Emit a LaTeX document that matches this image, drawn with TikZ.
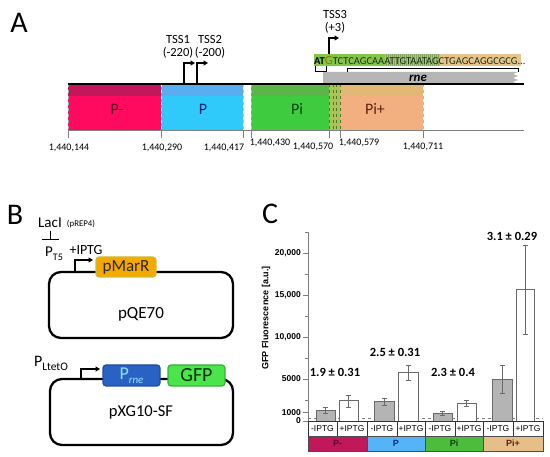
\documentclass[tikz,border=0pt]{standalone}
\usepackage{fontspec}
\setmainfont{Carlito}
\newfontfamily\arialf{Liberation Sans}
\usetikzlibrary{arrows.meta}
\definecolor{pmTop}{HTML}{C2185B}
\definecolor{pmBody}{HTML}{FF0A5F}
\definecolor{pTop}{HTML}{5AAEF0}
\definecolor{pBody}{HTML}{30CAFA}
\definecolor{piTop}{HTML}{5BB548}
\definecolor{piBody}{HTML}{3FCB3F}
\definecolor{pipTop}{HTML}{E3B775}
\definecolor{pipBody}{HTML}{F2B080}
\definecolor{stripeC}{HTML}{A8C458}
\definecolor{stripeL}{HTML}{4F7A20}
\definecolor{seqGreen}{HTML}{84C548}
\definecolor{seqMid}{HTML}{B4CC55}
\definecolor{seqTan}{HTML}{E6C48C}
\definecolor{seqG}{HTML}{8A7A00}
\definecolor{seqTxt}{HTML}{1C2E10}
\definecolor{rneGray}{HTML}{B6B6B6}
\definecolor{marrF}{HTML}{F5A800}
\definecolor{marrD}{HTML}{C8C038}
\definecolor{prneF}{HTML}{2A62C4}
\definecolor{prneT}{HTML}{8FE3FF}
\definecolor{gfpF}{HTML}{4CE44C}
\definecolor{gfpD}{HTML}{38B038}
\definecolor{gfpT}{HTML}{003000}
\definecolor{axisC}{HTML}{808080}
\definecolor{barG}{HTML}{B4B4B4}
\definecolor{barD}{HTML}{6A6A6A}
\definecolor{gPm}{HTML}{C0185A}
\definecolor{gPmT}{HTML}{600828}
\definecolor{gP}{HTML}{55B4F5}
\definecolor{gPT}{HTML}{0A2A80}
\definecolor{gPi}{HTML}{4DBB3C}
\definecolor{gPiT}{HTML}{0A4010}
\definecolor{gPip}{HTML}{E6BE8A}
\definecolor{gPipT}{HTML}{602010}
\tikzset{
  numlab/.style={font=\fontsize{10}{10}\selectfont, inner sep=0},
  tsslab/.style={font=\fontsize{12.5}{12.5}\selectfont, inner sep=0},
  seglab/.style={font=\fontsize{16}{16}\selectfont, inner sep=0},
  panellab/.style={font=\fontsize{30}{30}\selectfont, inner sep=0},
  prom/.style={line width=1.1pt, -{Triangle[length=4.5pt,width=5pt]}},
  plasmid/.style={line width=2.3pt, rounded corners=12pt},
  genebox/.style={rounded corners=3pt, line width=1.2pt, inner sep=0, minimum height=21pt},
  ticklab/.style={font=\arialf\bfseries\fontsize{8.5}{8.5}\selectfont, inner sep=0, anchor=east},
  celllab/.style={font=\arialf\fontsize{8.5}{8.5}\selectfont, inner sep=0},
  grouplab/.style={font=\arialf\bfseries\fontsize{9}{9}\selectfont, inner sep=0},
  foldlab/.style={font=\bfseries\fontsize{12.5}{12.5}\selectfont, inner sep=0},
  errb/.style={barD, line width=0.6pt}
}
\begin{document}
\begin{tikzpicture}[x=1pt,y=-1pt]
\useasboundingbox (0,0) rectangle (550,457);
\fill[white] (0,0) rectangle (550,457);

% ================= Panel A =================
\node[panellab] (labA) at (19,23) {A};

% segments
\fill[pmBody] (68,84) rectangle (161,130);
\fill[pmTop] (68,84) rectangle (161,96);
\fill[pBody] (161,84) rectangle (243,130);
\fill[pTop] (161,84) rectangle (243,96);
\fill[piBody] (251,84) rectangle (329,130);
\fill[piTop] (251,84) rectangle (329,96);
\fill[stripeC] (329,84) rectangle (340,130);
\fill[pipBody] (340,84) rectangle (423,130);
\fill[pipTop] (340,84) rectangle (423,96);
\foreach \xs in {329,333,336.5,340}
  \draw[stripeL, dashed, line width=0.6pt] (\xs,84) -- (\xs,130);
\draw[gray!70, dashed, line width=0.5pt] (68,84) -- (68,130);
\draw[white, dashed, line width=0.5pt] (161,84) -- (161,130);
\draw[gray!50, dashed, line width=0.5pt] (243,84) -- (243,130);
\draw[gray!50, dashed, line width=0.5pt] (251,84) -- (251,130);
\draw[pink!80!red, dashed, line width=0.5pt] (423,84) -- (423,130);

\node[seglab, text=gPmT] (sPm) at (117,109) {P-};
\node[seglab, text=gPT!80!black] (sP) at (203,109) {P};
\node[seglab, text=gPiT] (sPi) at (297,109) {Pi};
\node[seglab, text=gPipT] (sPip) at (375,109) {Pi+};

% rne gene bar
\fill[rneGray] (323,72) -- (518,72) -- (513,74) -- (518,76) -- (513,78) -- (518,80) -- (513,82) -- (518,84) -- (323,84) -- cycle;
\node[font=\bfseries\itshape\fontsize{13}{13}\selectfont, inner sep=0] (rne) at (418,78) {rne};

% base lines
\draw[line width=1.3pt] (68,84) -- (524,84);
\draw[axisC, line width=0.8pt] (68,130) -- (524,130);
\foreach \xt in {68,161,243,251,329,340,423}
  \draw[axisC, line width=0.8pt] (\xt,130) -- (\xt,138);

\node[numlab] (n1) at (69,148) {1,440,144};
\node[numlab] (n2) at (162,148) {1,440,290};
\node[numlab] (n3) at (224,148) {1,440,417};
\node[numlab] (n4) at (270,143) {1,440,430};
\node[numlab] (n5) at (313,147) {1,440,570};
\node[numlab] (n6) at (359,143) {1,440,579};
\node[numlab] (n7) at (423,147) {1,440,711};

% TSS1 / TSS2
\node[tsslab] (tss1) at (178,39) {TSS1};
\node[tsslab] (tss1p) at (178,53) {(-220)};
\node[tsslab] (tss2) at (210,39) {TSS2};
\node[tsslab] (tss2p) at (210,53) {(-200)};
\coordinate (t1s) at (184,84);
\coordinate (t1e) at (195,63);
\coordinate (t2s) at (197,84);
\coordinate (t2e) at (208,63);
\draw[prom] (t1s) |- (t1e);
\draw[prom] (t2s) |- (t2e);

% sequence
\fill[seqGreen] (314,54) rectangle (385,66);
\fill[seqMid] (385,54) rectangle (440,66);
\foreach \xs in {386,388,...,440}
  \draw[stripeL!70, line width=0.3pt] (\xs,54) -- (\xs,66);
\fill[seqTan] (440,54) rectangle (521,66);
\node[anchor=west, inner sep=0, font=\fontsize{10.5}{10.5}\selectfont, text=seqTxt] (seq) at (314,60.5)
  {\textbf{\color{black}AT}{\color{seqG}\fontsize{12.5}{12.5}\selectfont G}TCTCAGCAAATTGTAATAGCTGAGCAGGCGCG...};
\node[tsslab] (tss3) at (335,14) {TSS3};
\node[tsslab] (tss3p) at (335,28) {(+3)};
\coordinate (t3s) at (329,54);
\coordinate (t3e) at (339,38);
\draw[prom] (t3s) |- (t3e);
% brackets
\draw[line width=0.6pt] (315,66) -- (315,71) -- (326,71) -- (326,66);
\draw[line width=0.6pt] (347,72) -- (347,68) -- (518,68) -- (518,72);

% ================= Panel B =================
\node[panellab] (labB) at (15,215) {B};
\node[font=\fontsize{15}{15}\selectfont, inner sep=0] (lacI) at (50,223) {LacI};
\node[font=\fontsize{8.8}{8.8}\selectfont, inner sep=0] (prep) at (81,224) {(pREP4)};
\coordinate (inhA) at (50,231);
\coordinate (inhB) at (50,240.5);
\draw[line width=0.9pt, -{Bar[width=17pt,line width=1pt]}] (inhA) -- (inhB);
\node[anchor=base west, inner sep=0] (pt5) at (45,257)
  {\fontsize{15}{15}\selectfont P\raisebox{-4pt}{\fontsize{10}{10}\selectfont T5}};
\node[font=\fontsize{14}{14}\selectfont, inner sep=0] (iptg) at (86,250) {+IPTG};

\draw[plasmid] (49,272) rectangle (233,338);
\coordinate (a1s) at (75,272);
\coordinate (a1e) at (93,260);
\draw[prom] (a1s) |- (a1e);
\node[genebox, fill=marrF, draw=marrD, minimum width=60pt, minimum height=20pt,
      font=\fontsize{17}{17}\selectfont, text=black!85] (marr) at (126,267) {pMarR};
\node[font=\fontsize{17}{17}\selectfont, inner sep=0] (pqe) at (141,314) {pQE70};

\node[anchor=base west, inner sep=0] (pltet) at (34,367)
  {\fontsize{16}{16}\selectfont P\raisebox{-3.5pt}{\fontsize{11.5}{11.5}\selectfont LtetO}};
\draw[plasmid] (50,379) rectangle (233,445);
\coordinate (a2s) at (81,379);
\coordinate (a2e) at (100,369);
\draw[prom] (a2s) |- (a2e);
\node[genebox, fill=prneF, draw=prneF!80!black, minimum width=57pt, text=prneT] (prne) at (131.5,375.5)
  {\fontsize{18}{18}\selectfont P\raisebox{-4pt}{\fontsize{11}{11}\selectfont\itshape rne}};
\node[genebox, fill=gfpF, draw=gfpD, minimum width=57pt, text=gfpT,
      font=\fontsize{20}{20}\selectfont] (gfp) at (196.5,375.5) {GFP};
\node[font=\fontsize{16.5}{16.5}\selectfont, inner sep=0] (pxg) at (141,412) {pXG10-SF};

% ================= Panel C =================
\node[panellab] (labC) at (270,214) {C};
\node[font=\arialf\bfseries\fontsize{9}{9}\selectfont, inner sep=0, rotate=90] (ylab) at (266,318) {GFP Fluorescence [a.u.]};

\draw[axisC, line width=0.9pt] (308,232) -- (308,421);
\foreach \v in {0,5,10,15,20,1}
  \draw[axisC, line width=0.8pt] (302.5,{421-\v*8.4}) -- (308,{421-\v*8.4});
\foreach \v in {2.5,7.5,12.5,17.5,22.5}
  \draw[axisC, line width=0.6pt] (305,{421-\v*8.4}) -- (308,{421-\v*8.4});
\node[ticklab] (y20) at (301,253) {20,000};
\node[ticklab] (y15) at (301,295) {15,000};
\node[ticklab] (y10) at (301,337) {10,000};
\node[ticklab] (y5) at (301,379) {5000};
\node[ticklab] (y1) at (301,412.6) {1000};
\node[ticklab] (y0) at (301,420.5) {0};

\draw[axisC, dashed, line width=0.7pt] (308,418) -- (543,418);

\foreach \xa/\xb/\tp/\et/\eb/\fc in {316/335/410/407/413/barG, 339/358/400/395/407/white,
    374/394/401/398/405/barG, 398/418/372/365/380/white,
    433/452/413/411/415/barG, 457/476/403/400/406/white,
    492/512/379/365/393/barG, 516/534/289/245/334/white} {
  \draw[draw=barD, fill=\fc, line width=0.8pt] (\xa,421) rectangle (\xb,\tp);
  \draw[errb] ({(\xa+\xb)/2},\et) -- ({(\xa+\xb)/2},\eb);
  \draw[errb] ({(\xa+\xb)/2-2.5},\et) -- ({(\xa+\xb)/2+2.5},\et);
  \draw[errb] ({(\xa+\xb)/2-2.5},\eb) -- ({(\xa+\xb)/2+2.5},\eb);
}

\foreach \xa/\xb/\t/\n in {308/337/-IPTG/1, 337/367/+IPTG/2, 367/397/-IPTG/3, 397/425/+IPTG/4,
    425/455/-IPTG/5, 455/483/+IPTG/6, 483/513/-IPTG/7, 513/543/+IPTG/8} {
  \draw[black!80, line width=0.8pt, fill=white] (\xa,421) rectangle (\xb,436);
  \node[celllab] (cell\n) at ({(\xa+\xb)/2},428.8) {\t};
}
\foreach \xa/\xb/\fc/\tc/\t/\n in {308/367/gPm/gPmT/P-/1, 367/425/gP/gPT/P/2,
    425/483/gPi/gPiT/Pi/3, 483/543/gPip/gPipT/Pi+/4} {
  \draw[black!70, line width=0.8pt, fill=\fc] (\xa,436) rectangle (\xb,451);
  \node[grouplab, text=\tc] (grp\n) at ({(\xa+\xb)/2},443.5) {\t};
}

\node[foldlab] (f1) at (335,372) {1.9 ± 0.31};
\node[foldlab] (f2) at (395,352) {2.5 ± 0.31};
\node[foldlab] (f3) at (453,372) {2.3 ± 0.4};
\node[foldlab] (f4) at (512,236) {3.1 ± 0.29};
\end{tikzpicture}
\end{document}
